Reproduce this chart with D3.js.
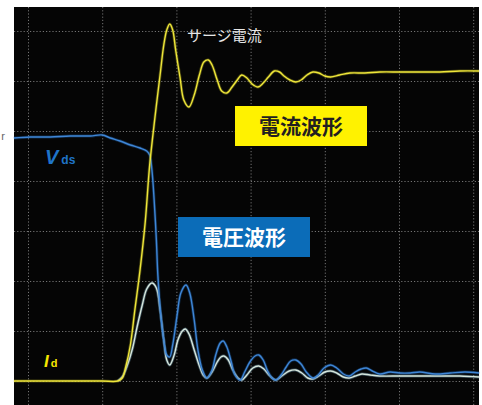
<!DOCTYPE html>
<html>
<head>
<meta charset="utf-8">
<script src="https://cdn.jsdelivr.net/npm/d3@7"></script>
<style>
  body { margin: 0; background: #fff; }
  svg { display: block; }
  .grid line { stroke: #737373; stroke-width: 1; stroke-dasharray: 1.2 2; }
  .grid path { display: none; }
</style>
</head>
<body>
<div id="chart"></div>
<script>
const width = 482,
  height = 405,
  plot = { left: 14, top: 7, right: 479, bottom: 405 };

// grid divisions (time divs, amplitude divs)
const xDivs = [0, 1, 2, 3, 4, 5, 6];
const yDivs = [0, 1, 2, 3, 4, 5, 6, 7];

// traces: [time div, amplitude div]
const idTrace = [
  [-0.19, 0], [0.5, 0], [1.0, 0], [1.21, 0], [1.27, 0.06], [1.32, 0.3], [1.38, 0.72],
  [1.44, 1.42], [1.51, 2.22], [1.58, 3.18], [1.64, 4.32], [1.71, 5.26], [1.78, 6.12],
  [1.83, 6.72], [1.87, 7.02], [1.91, 7.14], [1.95, 7.02], [1.99, 6.62], [2.05, 6.06],
  [2.10, 5.62], [2.17, 5.48], [2.24, 5.72], [2.31, 6.12], [2.37, 6.38], [2.43, 6.42],
  [2.48, 6.32], [2.55, 6.02], [2.61, 5.80], [2.68, 5.76], [2.75, 5.88], [2.82, 6.02],
  [2.88, 6.12], [2.95, 6.06], [3.02, 5.94], [3.10, 5.88], [3.17, 5.96], [3.24, 6.08],
  [3.32, 6.20], [3.39, 6.18], [3.45, 6.10], [3.53, 6.02], [3.61, 5.98], [3.68, 6.02],
  [3.76, 6.12], [3.84, 6.18], [3.92, 6.16], [4.00, 6.10], [4.08, 6.08], [4.20, 6.12],
  [4.34, 6.16], [4.54, 6.16], [4.74, 6.18], [5.01, 6.18], [5.28, 6.18], [5.55, 6.18],
  [5.82, 6.20], [6.08, 6.20]
];

const vdsTrace = [
  [-0.19, 4.86], [0.03, 4.88], [0.30, 4.88], [0.57, 4.90], [0.84, 4.90], [1.00, 4.92],
  [1.11, 4.86], [1.24, 4.80], [1.38, 4.72], [1.51, 4.66], [1.60, 4.60], [1.64, 4.52],
  [1.67, 4.22], [1.70, 3.62], [1.73, 2.82], [1.75, 2.12], [1.79, 1.32], [1.83, 0.82],
  [1.87, 0.52], [1.91, 0.48], [1.95, 0.72], [2.01, 1.32], [2.06, 1.76], [2.13, 1.92],
  [2.18, 1.76], [2.24, 1.22], [2.29, 0.62], [2.35, 0.22], [2.41, 0.06], [2.48, 0.22],
  [2.53, 0.52], [2.59, 0.76], [2.63, 0.80], [2.68, 0.68], [2.74, 0.38], [2.79, 0.12],
  [2.86, 0.02], [2.92, 0.18], [2.99, 0.38], [3.06, 0.50], [3.11, 0.52], [3.17, 0.42],
  [3.23, 0.20], [3.29, 0.06], [3.34, 0.02], [3.41, 0.12], [3.48, 0.28], [3.54, 0.40],
  [3.61, 0.42], [3.68, 0.34], [3.75, 0.18], [3.84, 0.06], [3.91, 0.12], [3.99, 0.26],
  [4.08, 0.32], [4.16, 0.26], [4.25, 0.14], [4.33, 0.10], [4.41, 0.18], [4.49, 0.24],
  [4.56, 0.26], [4.64, 0.20], [4.74, 0.14], [4.88, 0.18], [5.01, 0.16], [5.15, 0.16],
  [5.28, 0.18], [5.49, 0.14], [5.69, 0.16], [5.89, 0.18], [6.08, 0.16]
];

const subTrace = [
  [1.21, 0], [1.27, 0.08], [1.34, 0.32], [1.41, 0.66], [1.47, 1.08], [1.54, 1.52],
  [1.60, 1.84], [1.67, 1.96], [1.73, 1.86], [1.78, 1.42], [1.83, 0.82], [1.87, 0.42],
  [1.91, 0.32], [1.97, 0.52], [2.02, 0.82], [2.08, 1.00], [2.12, 1.04], [2.17, 0.94],
  [2.24, 0.62], [2.31, 0.30], [2.36, 0.12], [2.41, 0.06], [2.48, 0.18], [2.55, 0.38],
  [2.60, 0.48], [2.64, 0.50], [2.70, 0.42], [2.76, 0.22], [2.83, 0.06], [2.88, 0.02],
  [2.95, 0.12], [3.03, 0.26], [3.11, 0.30], [3.18, 0.24], [3.26, 0.10], [3.34, 0.02],
  [3.42, 0.10], [3.52, 0.20], [3.61, 0.22], [3.69, 0.16], [3.77, 0.06], [3.84, 0.04],
  [3.92, 0.10], [4.00, 0.18], [4.08, 0.20], [4.16, 0.16], [4.25, 0.08], [4.33, 0.06],
  [4.41, 0.10], [4.50, 0.14], [4.61, 0.12], [4.74, 0.10], [5.01, 0.10], [5.28, 0.10],
  [5.55, 0.10], [5.82, 0.10], [6.08, 0.08]
];

const svg = d3.select("#chart")
  .append("svg")
  .attr("width", width)
  .attr("height", height);

const xScale = d3.scaleLinear()
  .domain([0, 6])
  .range([28, 473.2]);

const yScale = d3.scaleLinear()
  .domain([0, 7])
  .range([381, 31]);

svg.append("rect")
  .attr("x", plot.left)
  .attr("y", plot.top)
  .attr("width", plot.right - plot.left)
  .attr("height", plot.bottom - plot.top)
  .attr("fill", "#050505");

// dotted graticule
svg.append("g")
  .attr("class", "grid")
  .attr("transform", `translate(0,${plot.bottom})`)
  .call(d3.axisBottom(xScale).tickValues(xDivs).tickSize(-(plot.bottom - plot.top)).tickFormat(""));

svg.append("g")
  .attr("class", "grid")
  .attr("transform", `translate(${plot.left},0)`)
  .call(d3.axisLeft(yScale).tickValues(yDivs).tickSize(-(plot.right - plot.left)).tickFormat(""));

const line = d3.line()
  .x(d => xScale(d[0]))
  .y(d => yScale(d[1]))
  .curve(d3.curveCatmullRom.alpha(0.5));

const traces = [
  { data: subTrace, color: "#d6e6dc", glow: "#7fb0c8" },
  { data: vdsTrace, color: "#3f86d6", glow: "#1f5fa8" },
  { data: idTrace, color: "#eee63a", glow: "#a8a020" }
];

traces.forEach(t => {
  svg.append("path")
    .datum(t.data)
    .attr("d", line)
    .attr("fill", "none")
    .attr("stroke", t.glow)
    .attr("stroke-opacity", 0.4)
    .attr("stroke-width", 3);
  svg.append("path")
    .datum(t.data)
    .attr("d", line)
    .attr("fill", "none")
    .attr("stroke", t.color)
    .attr("stroke-width", 1.4);
});

// labels
svg.append("text")
  .attr("x", 187)
  .attr("y", 41)
  .attr("font-family", "Noto Sans CJK JP")
  .attr("font-size", 15)
  .attr("fill", "#e6e6e6")
  .text("サージ電流");

svg.append("rect")
  .attr("x", 235).attr("y", 106)
  .attr("width", 132).attr("height", 40)
  .attr("fill", "#fff200");
svg.append("text")
  .attr("x", 301).attr("y", 134)
  .attr("text-anchor", "middle")
  .attr("font-family", "Noto Sans CJK JP")
  .attr("font-weight", "bold")
  .attr("font-size", 21)
  .attr("fill", "#231f20")
  .text("電流波形");

svg.append("rect")
  .attr("x", 178).attr("y", 217)
  .attr("width", 132).attr("height", 40)
  .attr("fill", "#0b6cb8");
svg.append("text")
  .attr("x", 244).attr("y", 245)
  .attr("text-anchor", "middle")
  .attr("font-family", "Noto Sans CJK JP")
  .attr("font-weight", "bold")
  .attr("font-size", 21)
  .attr("fill", "#ffffff")
  .text("電圧波形");

const vds = svg.append("text")
  .attr("x", 45).attr("y", 164)
  .attr("font-family", "Liberation Sans")
  .attr("font-weight", "bold")
  .attr("fill", "#1f74c8");
vds.append("tspan").attr("font-size", 20).attr("font-style", "italic").text("V");
vds.append("tspan").attr("font-size", 12).attr("dx", 3).text("ds");

const id = svg.append("text")
  .attr("x", 44).attr("y", 367)
  .attr("font-family", "Liberation Sans")
  .attr("font-weight", "bold")
  .attr("fill", "#f5e600");
id.append("tspan").attr("font-size", 17).attr("font-style", "italic").text("I");
id.append("tspan").attr("font-size", 11).attr("dx", 2).text("d");

svg.append("text")
  .attr("x", 5).attr("y", 140)
  .attr("text-anchor", "end")
  .attr("font-family", "Liberation Sans")
  .attr("font-size", 11)
  .attr("fill", "#666")
  .text("r");
</script>
</body>
</html>
